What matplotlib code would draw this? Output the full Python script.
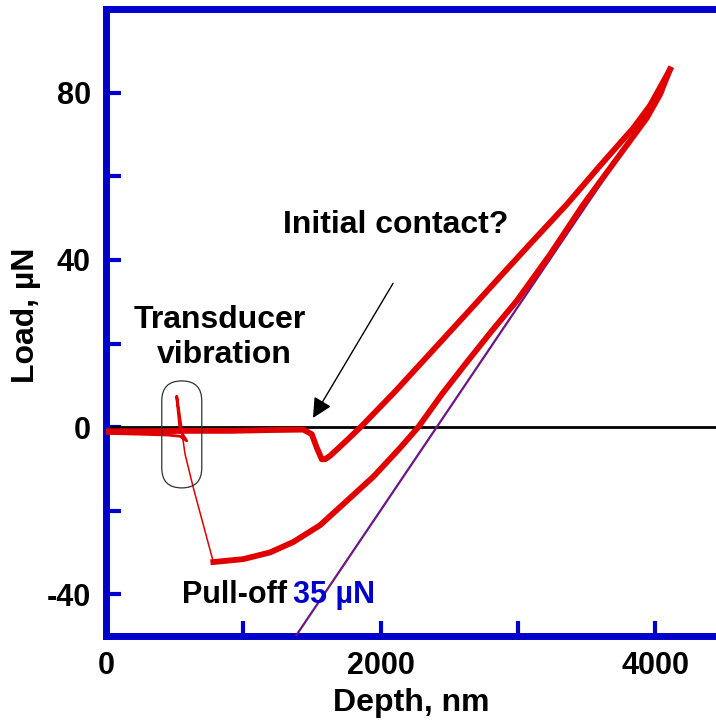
import matplotlib.pyplot as plt
from matplotlib.patches import FancyBboxPatch
from matplotlib.transforms import IdentityTransform

plt.rcParams['font.family'] = ['Liberation Sans', 'DejaVu Sans']
plt.rcParams['font.weight'] = 'bold'
plt.rcParams['font.size'] = 22

# approach + loading segment (depth nm, load uN)
load_x = [0, 300, 600, 900, 1200, 1438, 1499, 1535, 1572, 1596, 1632, 1750,
          1861, 2100, 2385, 2650, 2871, 3100, 3357, 3600, 3842, 3964, 4109]
load_y = [-1.0, -1.0, -0.9, -0.9, -0.7, -0.6, -1.7, -4.9, -7.7, -7.7, -6.9,
          -3.3, 0.2, 8.3, 18.5, 28.0, 36.0, 44.2, 53.3, 62.6, 71.6, 77.0, 85.6]

# unloading down to the pull-off minimum
unload_x = [4109, 4036, 3940, 3478, 3235, 2992, 2810, 2628, 2450, 2275, 2142,
            1950, 1760, 1559, 1365, 1195, 1000, 782]
unload_y = [85.6, 79.6, 74.0, 53.3, 41.3, 30.2, 23.0, 15.5, 8.0, 0.0, -5.0,
            -11.8, -17.5, -23.5, -27.5, -30.0, -31.6, -32.3]

# snap-off after pull-off
snap_x = [782, 636, 576, 552]
snap_y = [-32.3, -14.5, -6.5, -1.0]

# ringing of the transducer and retraction back to zero depth
ring_x = [552, 515, 540, 588, 540, 450, 250, 0]
ring_y = [-1.0, 7.4, -0.8, -3.3, -2.2, -1.9, -1.7, -1.5]

# unloading tangent
fit_x = [1383, 4058]
fit_y = [-50.0, 80.3]

red = '#E00000'
blue = '#0000CC'

fig = plt.figure(figsize=(7.16, 7.22), dpi=100)
ax = fig.add_axes([106 / 716, 86 / 722, 610 / 716, 626.7 / 722])
ax.set_xlim(0, 4444)
ax.set_ylim(-50, 100)

ax.axhline(0, color='black', lw=2, zorder=2)
ax.plot(fit_x, fit_y, color='#3020D0', lw=1.6, zorder=3)
ax.plot(fit_x, fit_y, color=red, lw=0.5, zorder=3)
ax.plot(load_x, load_y, color=red, lw=4.2, zorder=4, solid_joinstyle='round')
ax.plot(unload_x, unload_y, color=red, lw=4.2, zorder=4, solid_joinstyle='round')
ax.plot(snap_x, snap_y, color=red, lw=1.1, zorder=4)
ax.plot(ring_x, ring_y, color=red, lw=2, zorder=4)

for side in ['left', 'bottom', 'top']:
    ax.spines[side].set_color(blue)
    ax.spines[side].set_linewidth(5)
ax.spines['right'].set_visible(False)

ax.set_xticks([0, 1000, 2000, 3000, 4000])
ax.set_xticklabels(['0', '', '2000', '', '4000'])
ax.set_yticks([-40, -20, 0, 20, 40, 60, 80])
ax.set_yticklabels(['-40', '', '0', '', '40', '', '80'])
ax.tick_params(direction='in', length=11, width=3, color=blue, pad=11,
               labelsize=22, top=False, right=False)

ax.set_xlabel('Depth, nm', fontsize=23, fontweight='bold', va='center')
ax.xaxis.set_label_coords(0.5, -0.107)
ax.set_ylabel('Load, µN', fontsize=23, fontweight='bold', va='center')
ax.yaxis.set_label_coords(-0.131, 0.512)

ax.text(2113, 46.4, 'Initial contact?', ha='center', va='baseline', fontsize=23)
ax.annotate('', xy=(1508, 2.2), xytext=(2091, 34.4),
            arrowprops=dict(arrowstyle='-|>', color='black', lw=1,
                            mutation_scale=30, shrinkA=0, shrinkB=0))
ax.text(831, 23.7, 'Transducer', ha='center', va='baseline', fontsize=23)
ax.text(860, 15.3, 'vibration', ha='center', va='baseline', fontsize=23)
ax.text(554, -42.1, 'Pull-off', ha='left', va='baseline', fontsize=22)
ax.text(1362, -42.1, '35 µN', ha='left', va='baseline', color=blue, fontsize=22)

# rounded outline around the ringing region
cx, cy = ax.transData.transform((552, -1.75))
ax.add_patch(FancyBboxPatch((cx - 20, cy - 53.5), 40, 107,
                            boxstyle='round,pad=0,rounding_size=20',
                            transform=IdentityTransform(), fill=False,
                            ec='#333333', lw=0.9, zorder=5))

fig.savefig('out.png', dpi=100)
